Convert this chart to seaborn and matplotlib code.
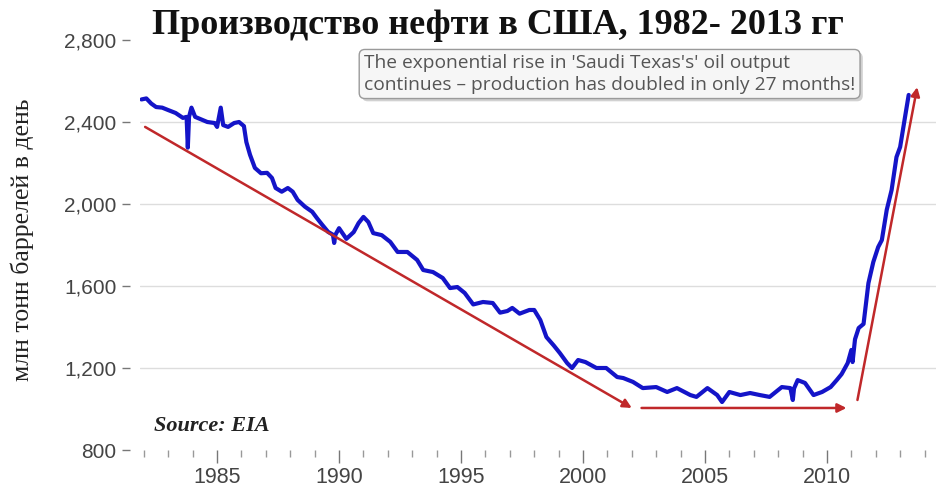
"""
US oil production 1982-2013 chart (recreated)
"""

import matplotlib
matplotlib.use("Agg")
import matplotlib.pyplot as plt
import matplotlib.patheffects as pe
from matplotlib.ticker import MultipleLocator, StrMethodFormatter
import pandas as pd
import seaborn as sns

# Production values (decimal year, value)
years = [
    1981.9, 1982.1, 1982.3, 1982.5, 1982.75, 1983.0, 1983.3, 1983.6, 1983.75, 1983.8,
    1983.85, 1983.95, 1984.1, 1984.4, 1984.6, 1984.9, 1985.0, 1985.15, 1985.25, 1985.45,
    1985.7, 1985.9, 1986.1, 1986.2, 1986.35, 1986.55, 1986.8, 1987.05, 1987.25, 1987.4,
    1987.65, 1987.9, 1988.1, 1988.3, 1988.6, 1988.9, 1989.1, 1989.3, 1989.55, 1989.75,
    1989.8, 1989.85, 1990.0, 1990.3, 1990.6, 1990.8, 1991.0, 1991.2, 1991.4, 1991.75,
    1992.1, 1992.4, 1992.8, 1993.2, 1993.45, 1993.85, 1994.25, 1994.55, 1994.85, 1995.15,
    1995.5, 1995.9, 1996.3, 1996.6, 1996.9, 1997.1, 1997.4, 1997.8, 1998.0, 1998.25,
    1998.5, 1998.8, 1999.05, 1999.35, 1999.55, 1999.8, 2000.1, 2000.55, 2000.95, 2001.4,
    2001.65, 2002.05, 2002.45, 2003.0, 2003.45, 2003.85, 2004.4, 2004.65, 2005.1, 2005.5,
    2005.7, 2006.0, 2006.45, 2006.85, 2007.25, 2007.65, 2008.15, 2008.5, 2008.6, 2008.65,
    2008.8, 2009.1, 2009.45, 2009.8, 2010.15, 2010.4, 2010.6, 2010.85, 2011.0, 2011.05,
    2011.15, 2011.3, 2011.5, 2011.7, 2011.9, 2012.1, 2012.25, 2012.45, 2012.65, 2012.85,
    2013.0, 2013.2, 2013.35,
]
production = [
    2510, 2515, 2490, 2473, 2470, 2458, 2444, 2420, 2425, 2275,
    2425, 2470, 2425, 2410, 2400, 2395, 2376, 2470, 2385, 2376,
    2395, 2400, 2380, 2302, 2240, 2176, 2150, 2152, 2127, 2078,
    2060, 2078, 2060, 2020, 1987, 1962, 1930, 1900, 1864, 1850,
    1810, 1850, 1882, 1830, 1863, 1907, 1937, 1912, 1858, 1848,
    1815, 1766, 1766, 1727, 1678, 1668, 1639, 1590, 1595, 1566,
    1510, 1522, 1517, 1470, 1478, 1493, 1465, 1483, 1483, 1434,
    1351, 1310, 1273, 1224, 1200, 1239, 1229, 1200, 1200, 1156,
    1151, 1132, 1102, 1107, 1083, 1102, 1068, 1059, 1102, 1068,
    1034, 1083, 1068, 1078, 1068, 1059, 1107, 1102, 1044, 1100,
    1141, 1127, 1068, 1083, 1107, 1141, 1170, 1224, 1288, 1229,
    1340, 1395, 1415, 1614, 1717, 1790, 1824, 1971, 2068, 2229,
    2278, 2424, 2532,
]

# Red trend arrows: (start year, start value, end year, end value)
trend_arrows = [
    (1982.05, 2376, 2002.0, 1005),
    (2002.4, 1005, 2010.8, 1005),
    (2011.25, 1044, 2013.7, 2570),
]

y_ticks = [800, 1200, 1600, 2000, 2400, 2800]

title = "Производство нефти в США, 1982- 2013 гг"
y_label = "млн тонн баррелей в день"
note = ("The exponential rise in 'Saudi Texas's' oil output\n"
        "continues \u2013 production has doubled in only 27 months!")
source = "Source: EIA"

sns.set_style("white")
plt.rcParams['font.family'] = ['Liberation Sans', 'DejaVu Sans']

df = pd.DataFrame({'year': years, 'production': production})

fig = plt.figure(figsize=(9.36, 4.86), dpi=100)
ax = fig.add_axes([140 / 936, 36 / 486, 796 / 936, 410 / 486])

sns.lineplot(data=df, x='year', y='production', ax=ax, color='#1414c8',
             linewidth=3, solid_joinstyle='round')

for x0, y0, x1, y1 in trend_arrows:
    ax.annotate('', xy=(x1, y1), xytext=(x0, y0),
                arrowprops=dict(arrowstyle='-|>', color='#c0282a', lw=1.8,
                                mutation_scale=13, shrinkA=0, shrinkB=0))

ax.set_xlim(1981.84, 2014.47)
ax.set_ylim(800, 2800)
ax.set_yticks(y_ticks)
ax.yaxis.set_major_formatter(StrMethodFormatter('{x:,.0f}'))
ax.xaxis.set_major_locator(MultipleLocator(5))
ax.xaxis.set_minor_locator(MultipleLocator(1))
ax.set_xlabel('')
ax.set_ylabel('')

for side in ['top', 'right', 'bottom', 'left']:
    ax.spines[side].set_visible(False)
# ticks sit a little away from the plot area, like in the original
ax.spines['left'].set_position(('outward', 7))

ax.grid(axis='y', color='#dddddd', linewidth=1)
ax.grid(axis='x', visible=False)
gl = ax.get_ygridlines()
gl[0].set_visible(False)
gl[-1].set_visible(False)

ax.tick_params(axis='y', which='major', length=6, width=1, color='#777777',
               labelsize=15, labelcolor='#444444', pad=4, left=True)
ax.tick_params(axis='x', which='major', length=9, width=1, color='#777777',
               labelsize=15.5, labelcolor='#444444', pad=3, bottom=True, direction='out')
ax.tick_params(axis='x', which='minor', length=5, width=1, color='#999999',
               bottom=True, direction='out')

ax.text(0.018, 0.033, source, transform=ax.transAxes, fontsize=16,
        fontweight='bold', fontstyle='italic', family=['Liberation Serif'],
        color='#222222', ha='left', va='bottom')

fig.text(498 / 936, 1 - 25 / 486, title, fontsize=26, fontweight='bold',
         family=['Liberation Serif'], color='#111111', ha='center', va='center')

fig.text(22 / 936, 1 - 240 / 486, y_label, fontsize=18.5, rotation=90,
         family=['Liberation Serif'], color='#222222', ha='center', va='center')

txt = fig.text(364 / 936, 1 - 74 / 486, note, fontsize=13.8, family=['Open Sans', 'DejaVu Sans'],
               color='#555555', ha='left', va='center', linespacing=1.25,
               bbox=dict(boxstyle='round,pad=0.25,rounding_size=0.3',
                         facecolor='#f6f6f6', edgecolor='#9a9a9a', linewidth=1))
txt.get_bbox_patch().set_path_effects([pe.withSimplePatchShadow(offset=(2, -2), alpha=0.25)])

fig.savefig('out.png', dpi=100)
